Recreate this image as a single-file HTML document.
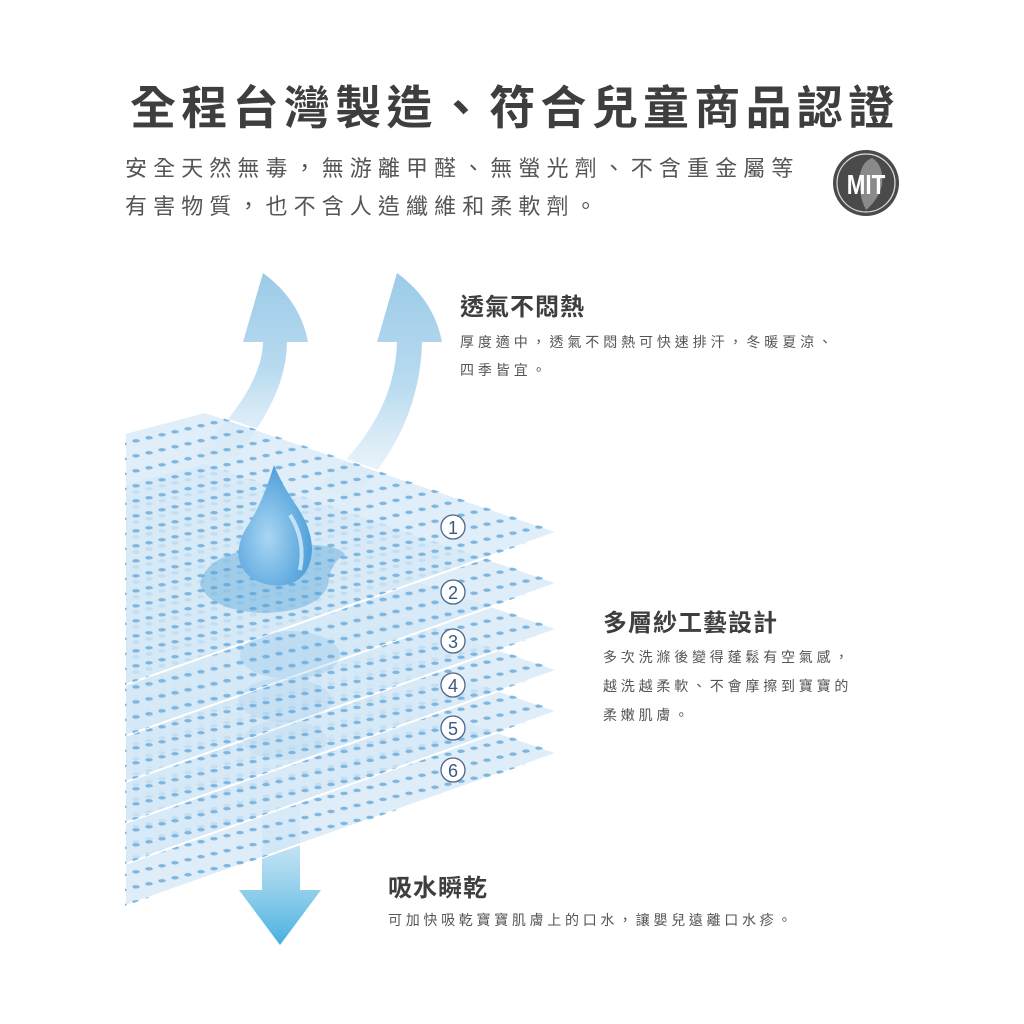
<!DOCTYPE html>
<html><head><meta charset="utf-8"><style>
body{margin:0;background:#fff;}
.wrap{position:relative;width:1024px;height:1024px;overflow:hidden;font-family:"Liberation Sans","Noto Sans CJK TC",sans-serif;color:#444;}
.t{position:absolute;white-space:nowrap;}
</style></head><body><div class="wrap">
<div class="t" style="left:130px;top:72px;font-size:46px;font-weight:bold;color:#3e3e3e;letter-spacing:5.3px;">全程台灣製造、符合兒童商品認證</div>
<div class="t" style="left:125px;top:150px;font-size:22px;letter-spacing:6.1px;color:#555;line-height:38px;">安全天然無毒，無游離甲醛、無螢光劑、不含重金屬等<br>有害物質，也不含人造纖維和柔軟劑。</div>

<svg width="1024" height="1024" style="position:absolute;left:0;top:0">
<defs>
<pattern id="dots" width="26" height="15" patternUnits="userSpaceOnUse" patternTransform="skewY(19)">
<ellipse transform="translate(6,4) skewY(-19)" cx="0" cy="0" rx="3.8" ry="1.7" fill="#7db6e1"/>
<ellipse transform="translate(19,11.5) skewY(-19)" cx="0" cy="0" rx="3.8" ry="1.7" fill="#7db6e1"/>
</pattern>
<linearGradient id="up" x1="0" y1="1" x2="0" y2="0"><stop offset="0" stop-color="#cfe5f4" stop-opacity="0.2"/><stop offset="0.5" stop-color="#b9dbf0"/><stop offset="1" stop-color="#9ccbe8"/></linearGradient>
<linearGradient id="down" x1="0" y1="0" x2="0" y2="1"><stop offset="0" stop-color="#a8d4ee" stop-opacity="0.3"/><stop offset="1" stop-color="#45b0de"/></linearGradient>
<radialGradient id="drop" cx="0.4" cy="0.6" r="0.7"><stop offset="0" stop-color="#a9d6f3"/><stop offset="1" stop-color="#3f96d6"/></radialGradient>
</defs>
<path d="M263,273 Q300,300 308,342 L287,342 Q287,400 225,470 L195,455 Q262,390 263,342 L243,342 Z" fill="url(#up)"/>
<path d="M397,273 Q434,300 442,342 L422,342 Q420,430 352,500 L320,485 Q395,420 397,342 L377,342 Z" fill="url(#up)"/>
<path d="M262,800 L300,800 L300,890 L321,890 L280,945 L239,890 L262,890 Z" fill="url(#down)"/>
<g stroke="#fff" stroke-width="2">
<g transform="translate(0,221)"><polygon points="125,433 205,412 558,532 125,685" fill="#d6e9f6" fill-opacity="0.8"/><polygon points="125,433 205,412 558,532 125,685" fill="url(#dots)" stroke="none"/></g>
<g transform="translate(0,179)"><polygon points="125,433 205,412 558,532 125,685" fill="#d6e9f6" fill-opacity="0.8"/><polygon points="125,433 205,412 558,532 125,685" fill="url(#dots)" stroke="none"/></g>
<g transform="translate(0,138)"><polygon points="125,433 205,412 558,532 125,685" fill="#d6e9f6" fill-opacity="0.8"/><polygon points="125,433 205,412 558,532 125,685" fill="url(#dots)" stroke="none"/></g>
<g transform="translate(0,97)"><polygon points="125,433 205,412 558,532 125,685" fill="#d6e9f6" fill-opacity="0.8"/><polygon points="125,433 205,412 558,532 125,685" fill="url(#dots)" stroke="none"/></g>
<g transform="translate(0,51)"><polygon points="125,433 205,412 558,532 125,685" fill="#d6e9f6" fill-opacity="0.8"/><polygon points="125,433 205,412 558,532 125,685" fill="url(#dots)" stroke="none"/></g>
<g><polygon points="125,433 205,412 558,532 125,685" fill="#d6e9f6" fill-opacity="0.78"/><polygon points="125,433 205,412 558,532 125,685" fill="url(#dots)" stroke="none"/></g>
</g>
<ellipse cx="290" cy="655" rx="50" ry="24" fill="#5aa7dc" opacity="0.18"/>
<ellipse cx="285" cy="700" rx="46" ry="22" fill="#5aa7dc" opacity="0.12"/>
<ellipse cx="285" cy="740" rx="42" ry="20" fill="#5aa7dc" opacity="0.08"/>
<path d="M200,585 Q205,548 290,545 Q340,543 345,555 Q330,562 328,585 Q318,612 262,613 Q210,610 200,585Z" fill="#4d9fd8" opacity="0.4"/>
<path d="M274,465 Q262,505 245,530 Q232,555 245,572 Q260,588 285,585 Q310,580 312,550 Q312,530 298,508 Q282,485 274,465Z" fill="url(#drop)"/>
<path d="M290,515 Q306,540 300,570" stroke="#d8eefc" stroke-width="4" fill="none" opacity="0.8"/>
<g font-family="Liberation Sans,sans-serif" font-size="18" fill="#3c5a80" text-anchor="middle">
<g fill="#fff" stroke="#4a6688" stroke-width="1.3">
<circle cx="453" cy="527" r="12"/><circle cx="453" cy="592" r="12"/><circle cx="453" cy="641" r="12"/><circle cx="453" cy="685" r="12"/><circle cx="453" cy="728" r="12"/><circle cx="453" cy="770" r="12"/></g>
<text x="453" y="534">1</text><text x="453" y="599">2</text><text x="453" y="648">3</text><text x="453" y="692">4</text><text x="453" y="735">5</text><text x="453" y="777">6</text>
</g>
<circle cx="866" cy="183" r="33" fill="#4a4a4a"/>
<circle cx="866" cy="183" r="29" fill="none" stroke="#ddd" stroke-width="1.2"/>
<path d="M872,158 Q884,165 882,185 Q878,200 866,210 Q858,195 860,175 Q862,162 872,158Z" fill="#8a8a8a"/>
<text x="866" y="194" font-family="Liberation Sans,sans-serif" font-weight="bold" font-size="28" fill="#fff" text-anchor="middle" transform="scale(0.8,1)" style="transform-origin:866px 183px">MIT</text>
</svg>

<div class="t" style="left:460px;top:287px;font-size:24px;font-weight:bold;color:#3e3e3e;letter-spacing:1px;">透氣不悶熱</div>
<div class="t" style="left:460px;top:328px;font-size:14px;letter-spacing:3.9px;line-height:28px;color:#555;">厚度適中，透氣不悶熱可快速排汗，冬暖夏涼、<br>四季皆宜。</div>
<div class="t" style="left:603px;top:603px;font-size:24px;font-weight:bold;color:#3e3e3e;letter-spacing:1px;">多層紗工藝設計</div>
<div class="t" style="left:603px;top:643px;font-size:14px;letter-spacing:3.8px;line-height:29px;color:#555;">多次洗滌後變得蓬鬆有空氣感，<br>越洗越柔軟、不會摩擦到寶寶的<br>柔嫩肌膚。</div>
<div class="t" style="left:388px;top:868px;font-size:24px;font-weight:bold;color:#3e3e3e;letter-spacing:1px;">吸水瞬乾</div>
<div class="t" style="left:388px;top:910px;font-size:14px;letter-spacing:3.7px;color:#555;">可加快吸乾寶寶肌膚上的口水，讓嬰兒遠離口水疹。</div>
</div></body></html>
